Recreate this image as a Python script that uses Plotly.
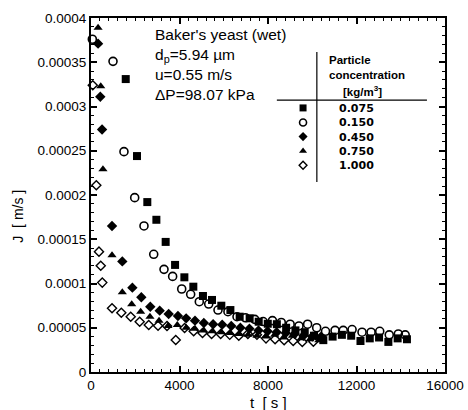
import plotly.graph_objects as go

# ---- data (t [s], J [m/s]) ----
t_0075 = [1570, 2080, 2545, 2955, 3375, 3800, 4220, 4625, 5060, 5470, 5890, 6300, 6720, 7170, 7580,
          7990, 8400, 8820, 9240, 9660, 10080, 10500, 10920, 11340, 11760, 12180, 12600, 13020, 13440, 13860, 14280]
J_0075 = [0.000331, 0.000244, 0.000192, 0.000172, 0.000147, 0.000121, 0.000107, 0.0000964, 0.0000859, 0.0000814,
          0.0000749, 0.0000700, 0.0000625, 0.0000607, 0.0000568, 0.0000545, 0.000054, 0.000050, 0.000047, 0.000045,
          0.000041, 0.000036, 0.000040, 0.000042, 0.000041, 0.000035, 0.000038, 0.000039, 0.000034, 0.000038, 0.000037]

t_0150 = [60, 995, 1490, 1975, 2395, 2835, 3300, 3690, 4100, 4505, 4895, 5320, 5740, 6190, 6600, 6980, 7400, 7780,
          8200, 8600, 9000, 9400, 9790, 10200, 10600, 11030, 11400, 11800, 12250, 12660, 13050, 13480, 13890, 14200]
J_0150 = [0.000376, 0.000351, 0.000249, 0.000197, 0.000165, 0.000133, 0.000116, 0.000108, 0.0000938, 0.0000878,
          0.0000794, 0.0000768, 0.0000700, 0.0000681, 0.0000625, 0.0000613, 0.0000595, 0.000057, 0.000058, 0.000056,
          0.000054, 0.000052, 0.000054, 0.000050, 0.000046, 0.000047, 0.000047, 0.000048, 0.000045, 0.000045,
          0.000046, 0.000042, 0.000043, 0.000042]

t_0450 = [320, 420, 500, 950, 1415, 1870, 2275, 2680, 3105, 3510, 3930, 4300, 4700, 5100, 5520, 5930, 6340,
          6750, 7160, 7570, 7980, 8390, 8800, 9200, 9600, 10000, 10400]
J_0450 = [0.000371, 0.000311, 0.000274, 0.000165, 0.000125, 0.0000953, 0.0000844, 0.0000738, 0.0000693, 0.0000655,
          0.0000633, 0.0000606, 0.000058, 0.0000553, 0.000054, 0.0000535, 0.000052, 0.000050, 0.000049, 0.000047,
          0.000046, 0.000045, 0.000044, 0.000043, 0.000041, 0.000040, 0.000040]

t_0750 = [320, 440, 540, 950, 1415, 1840, 2245, 2665, 3075, 3480, 3900, 4300, 4700, 5100, 5500, 5900, 6300, 6700,
          7100, 7500, 7900, 8300, 8700, 9100, 9500, 9900, 10300]
J_0750 = [0.000389, 0.000323, 0.000229, 0.000132, 0.0000900, 0.0000765, 0.0000682, 0.0000625, 0.000058, 0.000052,
          0.0000531, 0.000050, 0.000049, 0.000047, 0.000046, 0.000045, 0.000044, 0.000043, 0.000042, 0.000041,
          0.000040, 0.000042, 0.000039, 0.000041, 0.000038, 0.000037, 0.000036]

t_1000 = [80, 240, 360, 440, 510, 950, 1370, 1795, 2200, 2610, 3030, 3435, 3830, 4230, 4640, 5040, 5450, 5860,
          6270, 6680, 7090, 7500, 7910, 8320, 8730, 9140, 9550, 10050]
J_1000 = [0.000324, 0.000211, 0.000136, 0.000120, 0.000101, 0.000072, 0.000067, 0.0000625, 0.0000568, 0.0000531,
          0.0000523, 0.000052, 0.0000362, 0.0000497, 0.000046, 0.000044, 0.000043, 0.000043, 0.000042, 0.000041,
          0.000043, 0.000042, 0.000038, 0.000037, 0.000036, 0.000035, 0.000034, 0.0000343]

legend_labels = ["0.075", "0.150", "0.450", "0.750", "1.000"]
info_lines = ["Baker's yeast (wet)", "d<sub>p</sub>=5.94 µm", "u=0.55 m/s", "ΔP=98.07 kPa"]
x_ticks = [0, 4000, 8000, 12000, 16000]
x_ticktext = ["0", "4000", "8000", "12000", "16000"]
y_ticks = [0, 0.00005, 0.0001, 0.00015, 0.0002, 0.00025, 0.0003, 0.00035, 0.0004]
y_ticktext = ["0", "0.00005", "0.0001", "0.00015", "0.0002", "0.00025", "0.0003", "0.00035", "0.0004"]

FONT = "Liberation Sans, Arial, sans-serif"
series = [
    (t_0075, J_0075, dict(symbol="square", size=8, color="black")),
    (t_0150, J_0150, dict(symbol="circle-open", size=8, color="black", line=dict(width=1.6, color="black"))),
    (t_0450, J_0450, dict(symbol="diamond", size=8, color="black")),
    (t_0750, J_0750, dict(symbol="triangle-up", size=8, color="black")),
    (t_1000, J_1000, dict(symbol="diamond-open", size=7, color="black", line=dict(width=1.4, color="black"))),
]

fig = go.Figure()
for t, J, mk in series:
    fig.add_trace(go.Scatter(x=t, y=J, mode="markers", marker=mk, showlegend=False, cliponaxis=False))

# legend table markers (on an overlay axis in plot-fraction units)
leg_y = [0.746, 0.705, 0.665, 0.624, 0.584]
for (t, J, mk), ly in zip(series, leg_y):
    m = dict(mk)
    m["size"] = mk["size"] - 1
    fig.add_trace(go.Scatter(x=[0.599], y=[ly], mode="markers", marker=m, showlegend=False,
                             xaxis="x2", yaxis="y2", hoverinfo="skip"))

axis_common = dict(showline=True, linecolor="black", linewidth=2, mirror="allticks", ticks="inside",
                   ticklen=6, tickwidth=1.5, tickcolor="black", showgrid=False, zeroline=False,
                   automargin=False, tickfont=dict(family=FONT, size=13.5, color="black"))

fig.update_layout(
    width=468, height=410, margin=dict(l=91, r=23, t=18, b=38),
    paper_bgcolor="white", plot_bgcolor="white",
    xaxis=dict(range=[0, 16000], tickvals=x_ticks, ticktext=x_ticktext,
               minor=dict(dtick=400, ticks="inside", ticklen=3, tickwidth=1.2, tickcolor="black"),
               **axis_common),
    yaxis=dict(range=[0, 0.0004], tickvals=y_ticks, ticktext=y_ticktext,
               minor=dict(dtick=0.00001, ticks="inside", ticklen=3, tickwidth=1.2, tickcolor="black"),
               **axis_common),
    xaxis2=dict(range=[0, 1], overlaying="x", visible=False, automargin=False),
    yaxis2=dict(range=[0, 1], overlaying="y", visible=False, automargin=False),
)

# info block
fig.add_annotation(text="<br>".join(info_lines), x=0.175, y=0.983, xref="paper", yref="paper",
                   xanchor="left", yanchor="top", align="left", showarrow=False,
                   font=dict(family=FONT, size=15.5, color="black"))
# legend table header
fig.add_annotation(text="<b>Particle<br>concentration</b>", x=0.667, y=0.861, xref="paper", yref="paper",
                   xanchor="left", yanchor="middle", align="left", showarrow=False,
                   font=dict(family=FONT, size=11.5, color="black"))
fig.add_annotation(text="<b>[kg/m<sup>3</sup>]</b>", x=0.705, y=0.795, xref="paper", yref="paper",
                   xanchor="left", yanchor="middle", showarrow=False,
                   font=dict(family=FONT, size=11.5, color="black"))
# legend table labels
fig.add_annotation(text="<b>" + "<br>".join(legend_labels) + "</b>", x=0.695, y=leg_y[2],
                   xref="paper", yref="paper", xanchor="left", yanchor="middle", align="left",
                   showarrow=False, font=dict(family="DejaVu Sans", size=11, color="black"))

# axis titles
fig.add_annotation(text="J  [ m/s ]", x=-0.205, y=0.44, xref="paper", yref="paper", textangle=-90,
                   xanchor="center", yanchor="middle",
                   showarrow=False, font=dict(family=FONT, size=14, color="black"))
fig.add_annotation(text="t  [ s ]", x=0.5, y=-0.087, xref="paper", yref="paper", xanchor="center",
                   yanchor="middle", showarrow=False, font=dict(family=FONT, size=15, color="black"))

# legend table lines
fig.add_shape(type="line", xref="paper", yref="paper", x0=0.525, x1=0.949, y0=0.768, y1=0.768,
              line=dict(color="black", width=1.2))
fig.add_shape(type="line", xref="paper", yref="paper", x0=0.638, x1=0.638, y0=0.537, y1=0.904,
              line=dict(color="black", width=1.2))

fig.write_html("out.html")
